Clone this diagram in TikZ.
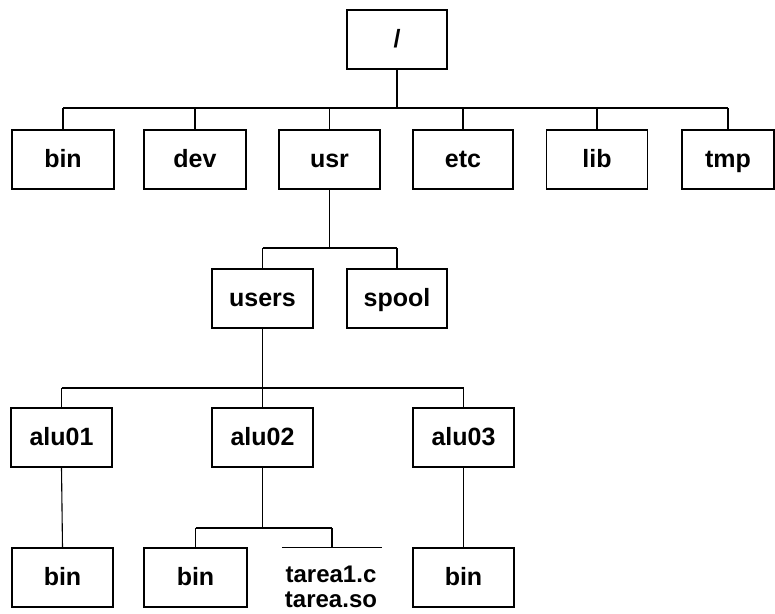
\documentclass[tikz,border=0pt]{standalone}
\usepackage{fontspec}
\setmainfont{Liberation Sans}
\begin{document}
\begin{tikzpicture}[x=1pt,y=-1pt,
  dirbox/.style={draw, line width=1.1pt, minimum width=101pt, minimum height=59pt, inner sep=0pt, text height=18pt, text depth=2pt, font=\fontsize{25}{27}\selectfont\bfseries},
  ghostbox/.style={minimum width=100pt, minimum height=59pt, inner sep=0pt},
  label/.style={inner sep=0pt, align=center, font=\fontsize{24}{25}\selectfont\bfseries},
  conn/.style={line width=1.1pt}]
\useasboundingbox (0,0) rectangle (775,613);
% root
\node[dirbox, minimum width=100pt] (root) at (397,39.5) {/};
% level 1
\node[dirbox, minimum width=102pt] (bin) at (63,159.5) {bin};
\node[dirbox, minimum width=102pt] (dev) at (195,159.5) {dev};
\node[dirbox] (usr) at (329.5,159.5) {usr};
\node[dirbox, minimum width=100pt] (etc) at (463,159.5) {etc};
\node[dirbox] (lib) at (597,159.5) {lib};
\node[dirbox, minimum width=92pt] (tmp) at (728,159.5) {tmp};
\coordinate (bus1) at (397,108);
\draw[conn] (root.south) -- (bus1);
\draw[conn] (bin.north |- bus1) -- (tmp.north |- bus1);
\foreach \n in {bin,dev,usr,etc,lib,tmp} \draw[conn] (\n.north) -- (\n.north |- bus1);
% level 2
\node[dirbox] (users) at (262.5,298.5) {users};
\node[dirbox, minimum width=100pt] (spool) at (397,298.5) {spool};
\coordinate (bus2) at (329.5,248);
\draw[conn] (usr.south) -- (bus2);
\draw[conn] (users.north |- bus2) -- (spool.north |- bus2);
\foreach \n in {users,spool} \draw[conn] (\n.north) -- (\n.north |- bus2);
% level 3
\node[dirbox] (alu01) at (61.5,437.5) {alu01};
\node[dirbox] (alu02) at (262.5,437.5) {alu02};
\node[dirbox] (alu03) at (463.5,437.5) {alu03};
\coordinate (bus3) at (262.5,388);
\draw[conn] (users.south) -- (bus3);
\draw[conn] (alu01.north |- bus3) -- (alu03.north |- bus3);
\foreach \n in {alu01,alu02,alu03} \draw[conn] (\n.north) -- (\n.north |- bus3);
% level 4
\node[dirbox] (binA) at (62.5,577.5) {bin};
\node[dirbox, minimum width=103pt] (binB) at (195.5,577.5) {bin};
\node[ghostbox] (tareabox) at (332,577.5) {};
\node[label] (tarea) at (331,587) {tarea1.c\\tarea.so};
\node[dirbox] (binC) at (463.5,577.5) {bin};
\draw[conn] (tareabox.north west) -- (tareabox.north east);
\draw[conn] (alu01.south) -- (binA.north);
\draw[conn] (alu03.south) -- (binC.north);
\coordinate (bus4) at (262.5,528);
\draw[conn] (alu02.south) -- (bus4);
\draw[conn] (binB.north |- bus4) -- (tareabox.north |- bus4);
\foreach \n in {binB,tareabox} \draw[conn] (\n.north) -- (\n.north |- bus4);
\end{tikzpicture}
\end{document}
